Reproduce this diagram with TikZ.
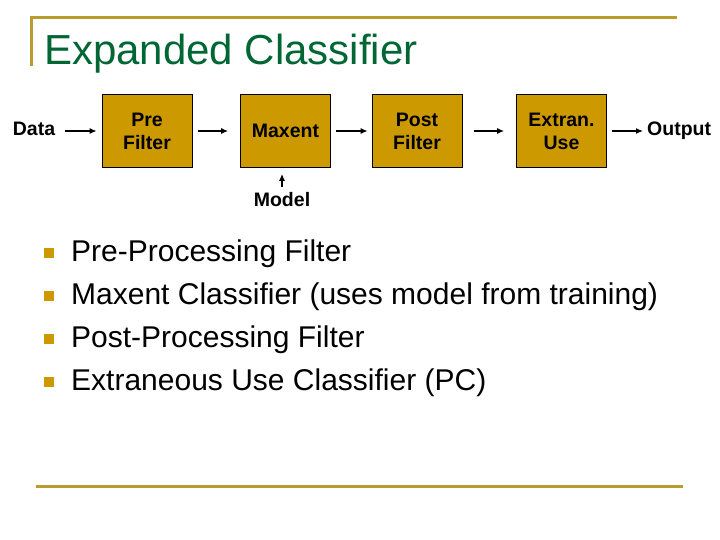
\documentclass[tikz,border=0pt]{standalone}
\usepackage{fontspec}
\setmainfont{Liberation Sans}
\usepackage{xcolor}
\usepackage{tikz}
\usetikzlibrary{positioning,arrows.meta}
\definecolor{boxgold}{RGB}{204,153,0}
\definecolor{rulegold}{RGB}{186,156,46}
\definecolor{titlegreen}{RGB}{0,102,51}

\begin{document}
\begin{tikzpicture}[x=1pt,y=-1pt,
      box/.style={draw=black,line width=0.8pt,fill=boxgold,minimum width=90pt,minimum height=73pt,
        align=center,inner sep=0pt,font=\fontsize{19.5}{23}\selectfont\bfseries},
      lbl/.style={inner sep=0pt,font=\fontsize{19.5}{23}\selectfont\bfseries},
      item/.style={inner sep=0pt,anchor=base west,font=\fontsize{30}{36}\selectfont},
      bullet/.style={fill=boxgold,minimum size=10pt,inner sep=0pt},
      arr/.style={-{Latex[length=7pt,width=6pt]},line width=1.2pt},
      rule/.style={rulegold,line width=3pt}]
    \useasboundingbox (0,0) rectangle (720,540);
    % frame rules
    \draw[rule] (31,66) -- (31,18) -- (677,18);
    \draw[rule] (36,486) -- (683,486);
    % title
    \node[anchor=base west,inner sep=0pt,text=titlegreen,font=\fontsize{42}{48}\selectfont] (title) at (44,65) {Expanded Classifier};
    % blocks
    \node[box] (pre) at (147,131) {Pre\\Filter};
    \node[box] (maxent) at (285.5,131) {Maxent};
    \node[box] (post) at (417,131) {Post\\Filter};
    \node[box] (extran) at (561.5,131) {Extran.\\Use};
    \node[lbl,anchor=base] (data) at (34,136) {Data};
    \node[lbl,anchor=base west] (output) at (647,136) {Output};
    \node[lbl,anchor=base] (model) at (282,207) {Model};
    % arrows
    \foreach \a/\b/\s/\e in {data/pre/10/5,pre/maxent/6/12,maxent/post/5/4,post/extran/12/12,extran/output/5/4}
      \draw[arr,shorten <=\s pt,shorten >=\e pt] (\a.east |- pre.west) -- (\b.west |- pre.west);
    \draw[arr,shorten <=6pt,shorten >=6pt] (model.north) -- (model.north |- maxent.south);
    % bullet list
    \foreach \t [count=\i] in {Pre-Processing Filter,Maxent Classifier (uses model from training),Post-Processing Filter,Extraneous Use Classifier (PC)} {
      \node[bullet] (b\i) at (49,{253+(\i-1)*43}) {};
      \node[item] (t\i) at (71,{261+(\i-1)*43}) {\t};
    }
  \end{tikzpicture}
\end{document}
